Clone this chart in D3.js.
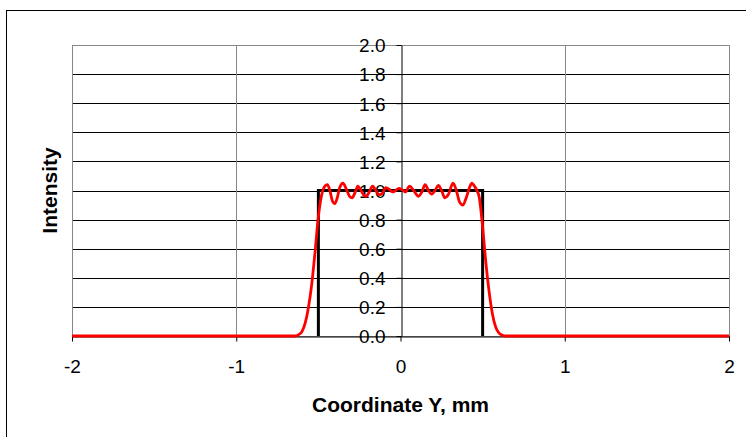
<!DOCTYPE html>
<html><head><meta charset="utf-8">
<script src="https://cdn.jsdelivr.net/npm/d3@7"></script>
<style>body{margin:0;background:#fff}svg{display:block}text{font-family:"Liberation Sans",Arial,sans-serif}</style>
</head><body>
<script>
const xTicks = [-2, -1, 0, 1, 2];
const yTicks = [0, 0.2, 0.4, 0.6, 0.8, 1.0, 1.2, 1.4, 1.6, 1.8, 2.0];
const rectX = [-0.5, -0.5, 0.5, 0.5];
const rectY = [0, 1, 1, 0];
const curveX = [-2, -0.64, -0.62, -0.60, -0.58, -0.56, -0.54, -0.52, -0.50, -0.48, -0.46, -0.445, -0.43, -0.415, -0.40, -0.385, -0.37, -0.35, -0.33, -0.31, -0.295, -0.275, -0.26, -0.245, -0.225, -0.21, -0.19, -0.17, -0.15, -0.13, -0.11, -0.09, -0.07, -0.05, -0.03, -0.01, 0.01, 0.03, 0.055, 0.08, 0.11, 0.13, 0.15, 0.17, 0.19, 0.21, 0.23, 0.25, 0.27, 0.29, 0.32, 0.34, 0.36, 0.38, 0.40, 0.42, 0.435, 0.45, 0.465, 0.48, 0.49, 0.50, 0.52, 0.54, 0.56, 0.58, 0.60, 0.62, 0.64, 2];
const curveY = [0, 0, 0.01, 0.03, 0.09, 0.2, 0.36, 0.58, 0.82, 0.97, 1.03, 1.04, 1.0, 0.93, 0.91, 0.95, 1.02, 1.05, 1.01, 0.96, 0.95, 0.99, 1.03, 1.01, 0.97, 0.96, 0.99, 1.03, 1.0, 0.97, 0.98, 1.02, 1.01, 0.99, 1.0, 1.015, 1.005, 0.99, 1.03, 1.0, 0.96, 0.99, 1.04, 1.0, 0.975, 1.0, 1.035, 1.0, 0.95, 0.97, 1.05, 1.0, 0.92, 0.90, 0.95, 1.02, 1.05, 1.03, 1.0, 0.95, 0.86, 0.75, 0.5, 0.3, 0.15, 0.06, 0.02, 0.005, 0, 0];

const W = 746, H = 437;
const L = 72, R = 729, T = 45, B = 336;
const svg = d3.select("body").append("svg").attr("width", W).attr("height", H);
svg.append("rect").attr("x", 6.5).attr("y", 10.5).attr("width", 760).attr("height", 440)
  .attr("fill", "#fff").attr("stroke", "#000").attr("stroke-width", 1);

const x = d3.scaleLinear().domain([-2, 2]).range([L, R]);
const y = d3.scaleLinear().domain([0, 2]).range([B, T]);

const g = svg.append("g");
g.selectAll(".hg").data(yTicks.filter(d => d > 0 && d < 2)).join("line")
  .attr("x1", L).attr("x2", R).attr("y1", d => Math.round(y(d)) + 0.5).attr("y2", d => Math.round(y(d)) + 0.5)
  .attr("stroke", "#000").attr("stroke-width", 1);
g.selectAll(".vg").data(xTicks.filter(d => d !== 0 && Math.abs(d) < 2)).join("line")
  .attr("y1", T).attr("y2", B).attr("x1", d => Math.round(x(d)) + 0.5).attr("x2", d => Math.round(x(d)) + 0.5)
  .attr("stroke", "#888").attr("stroke-width", 1);
g.append("rect").attr("x", L + 0.5).attr("y", T + 0.5).attr("width", R - L).attr("height", B - T)
  .attr("fill", "none").attr("stroke", "#888").attr("stroke-width", 1);

const fmtX = d => String(d);
const xAxis = d3.axisBottom(x).tickValues(xTicks).tickSize(5).tickSizeOuter(0).tickFormat(fmtX);
const xg = svg.append("g").attr("transform", `translate(0,${Math.round(y(0)) + 0.5})`).call(xAxis);
xg.select(".domain").attr("stroke", "#000");
xg.selectAll(".tick line").attr("stroke", "#000");
xg.selectAll("text").attr("font-size", 19).attr("y", 36.5).attr("dy", 0).attr("fill", "#000");

const yAxis = d3.axisLeft(y).tickValues(yTicks).tickSize(5).tickSizeOuter(0).tickFormat(d3.format(".1f"));
const yg = svg.append("g").attr("transform", `translate(${Math.round(x(0)) + 0.5},0)`).call(yAxis);
yg.select(".domain").attr("stroke", "#000");
yg.selectAll(".tick line").attr("stroke", "#000");
yg.selectAll("text").attr("font-size", 19).attr("x", -16).attr("dy", "0.36em").attr("fill", "#000");

const line = d3.line().x(d => x(d[0])).y(d => y(d[1]));
svg.append("path").datum(d3.zip(rectX, rectY)).attr("d", line)
  .attr("fill", "none").attr("stroke", "#000").attr("stroke-width", 3);
const cl = d3.line().x(d => x(d[0])).y(d => y(d[1])).curve(d3.curveMonotoneX);
svg.append("path").datum(d3.zip(curveX, curveY)).attr("d", cl)
  .attr("fill", "none").attr("stroke", "#ff0000").attr("stroke-width", 2.8);

svg.append("text").attr("x", (L + R) / 2).attr("y", 412).attr("text-anchor", "middle")
  .attr("font-size", 21).attr("font-weight", "bold").text("Coordinate Y, mm");
svg.append("text").attr("transform", `translate(57,${(T + B) / 2}) rotate(-90)`).attr("text-anchor", "middle")
  .attr("font-size", 21).attr("font-weight", "bold").text("Intensity");
</script>
</body></html>
